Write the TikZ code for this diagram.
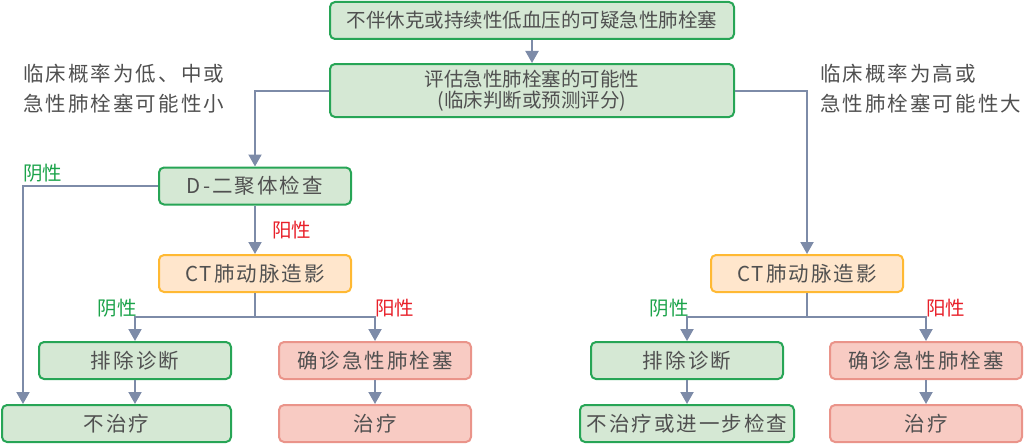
\documentclass[tikz,border=0pt]{standalone}
\usepackage{fontspec}
\setmainfont{Noto Sans CJK SC}
\newfontfamily\widefont[LetterSpace=10]{Noto Sans CJK SC}
\usetikzlibrary{arrows.meta,positioning,calc}
\definecolor{txt}{HTML}{505050}
\definecolor{gfill}{HTML}{D5E8D4}
\definecolor{gdraw}{HTML}{27A556}
\definecolor{ofill}{HTML}{FFE6CC}
\definecolor{odraw}{HTML}{FFB933}
\definecolor{rfill}{HTML}{F8CBC3}
\definecolor{rdraw}{HTML}{EA948A}
\definecolor{lnk}{HTML}{7D8BA8}
\definecolor{neg}{HTML}{1BA34A}
\definecolor{pos}{HTML}{E8202A}
\begin{document}
\begin{tikzpicture}[x=1pt,y=-1pt,
  box/.style={rounded corners=5pt,line width=2pt,inner sep=0pt,align=center,text=txt,
    minimum height=37pt},
  gbox/.style={box,fill=gfill,draw=gdraw},
  obox/.style={box,fill=ofill,draw=odraw},
  rbox/.style={box,fill=rfill,draw=rdraw},
  topfont/.style={font=\fontsize{19.5}{21}\selectfont},
  lowfont/.style={font=\widefont\fontsize{20.5}{24}\selectfont},
  link/.style={draw=lnk,line width=2pt,-{Triangle[length=12pt,width=13pt]}},
  plain/.style={draw=lnk,line width=2pt},
  lab/.style={inner sep=0pt,font=\fontsize{19.5}{22}\selectfont},
  side/.style={inner sep=0pt,anchor=west,text=txt,font=\widefont\fontsize{20.5}{24}\selectfont}]
\useasboundingbox (0,0) rectangle (1024,444);
% boxes
\node[gbox,topfont,minimum width=404pt] (top) at (532,20.5) {不伴休克或持续性低血压的可疑急性肺栓塞};
\node[gbox,topfont,minimum width=404pt,minimum height=53pt] (assess) at (532,90.5) {评估急性肺栓塞的可能性\\(临床判断或预测评分)};
\node[gbox,lowfont,minimum width=192pt] (dd) at (255,186) {D-二聚体检查};
\node[obox,lowfont,minimum width=192pt] (ctL) at (255,273.5) {CT肺动脉造影};
\node[gbox,lowfont,minimum width=192pt] (exL) at (135,360.5) {排除诊断};
\node[rbox,lowfont,minimum width=192pt] (cfL) at (375,360.5) {确诊急性肺栓塞};
\node[gbox,lowfont,minimum width=229pt] (ntL) at (116.5,423.5) {不治疗};
\node[rbox,lowfont,minimum width=192pt] (trL) at (375,423.5) {治疗};
\node[obox,lowfont,minimum width=192pt] (ctR) at (807,273.5) {CT肺动脉造影};
\node[gbox,lowfont,minimum width=192pt] (exR) at (687,360.5) {排除诊断};
\node[rbox,lowfont,minimum width=192pt] (cfR) at (926,360.5) {确诊急性肺栓塞};
\node[gbox,lowfont,minimum width=214pt] (ntR) at (687,423.5) {不治疗或进一步检查};
\node[rbox,lowfont,minimum width=192pt] (trR) at (926,423.5) {治疗};
% side texts
\node[side] (sideL1) at (23,74) {临床概率为低、中或};
\node[side] (sideL2) at (23,104) {急性肺栓塞可能性小};
\node[side] (sideR1) at (820,74) {临床概率为高或};
\node[side] (sideR2) at (820,104) {急性肺栓塞可能性大};
% coordinates
\coordinate (negin) at (23,404);
\coordinate (brL) at (255,317);
\coordinate (brR) at (807,317);
% connectors
\path[link] (top) -- (assess);
\path[link] (assess.west) -| (dd.north);
\path[link] (assess.east) -| (ctR.north);
\path[link] (dd.west) -| (negin);
\path[link] (dd) -- (ctL);
\path[plain] (ctL.south) -- (brL);
\path[link] (brL) -| (exL.north);
\path[link] (brL) -| (cfL.north);
\path[link] (exL.south) -- (exL.south |- ntL.north);
\path[link] (cfL) -- (trL);
\path[plain] (ctR.south) -- (brR);
\path[link] (brR) -| (exR.north);
\path[link] (brR) -| (cfR.north);
\path[link] (exR) -- (ntR);
\path[link] (cfR) -- (trR);
% labels
\node[lab,text=neg,anchor=west] (ddneg) at (23,173) {阴性};
\node[lab,text=pos,anchor=west] (ddpos) at (272,230) {阳性};
\node[lab,text=neg,anchor=east] (ctLneg) at (137,308) {阴性};
\node[lab,text=pos,anchor=west] (ctLpos) at (375,308) {阳性};
\node[lab,text=neg,anchor=east] (ctRneg) at (689,308) {阴性};
\node[lab,text=pos,anchor=west] (ctRpos) at (926,308) {阳性};
\end{tikzpicture}
\end{document}
